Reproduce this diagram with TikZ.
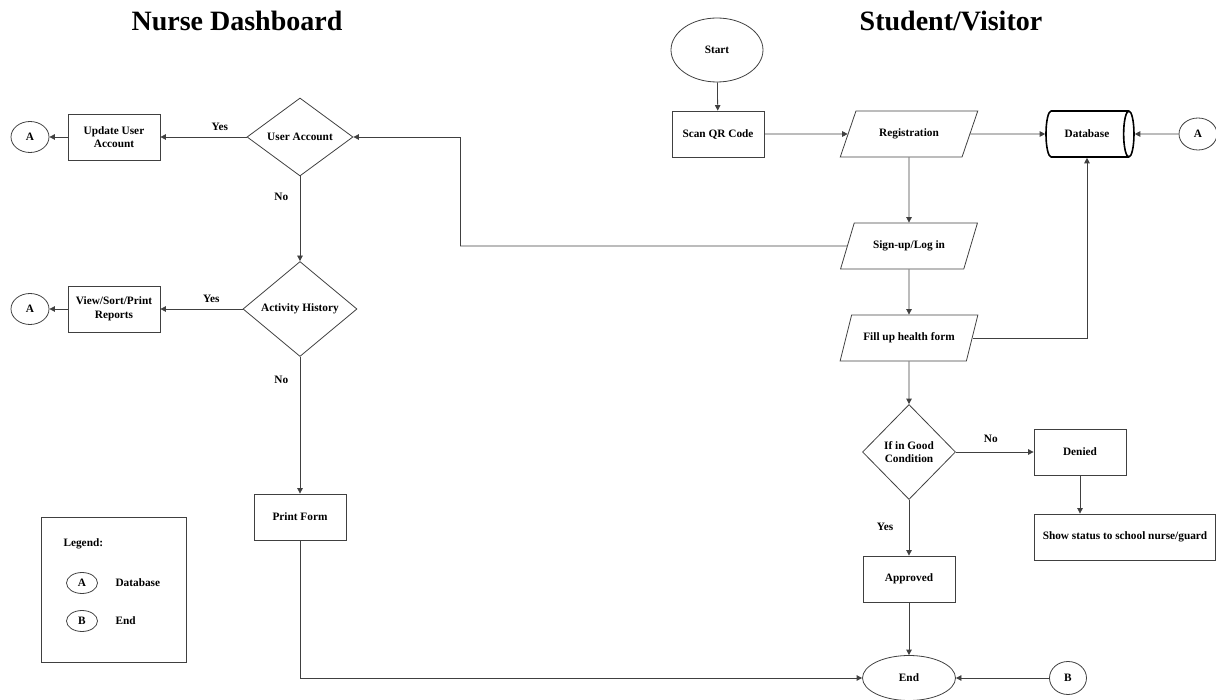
\documentclass[tikz,border=0pt]{standalone}
\usepackage{fontspec}
\setmainfont{Liberation Serif}
\usetikzlibrary{shapes.geometric,arrows.meta,positioning}
\tikzstyle{process}   = [rectangle, draw=black!75, line width=0.8pt, minimum width=92pt, minimum height=46pt, align=center]
\tikzstyle{io}        = [trapezium, trapezium left angle=60, trapezium right angle=120, trapezium stretches=true, minimum width=138pt, minimum height=46pt, draw=black!75, line width=0.8pt]
\tikzstyle{decision}  = [diamond, draw=black!75, line width=0.8pt, aspect=1.15, inner sep=0pt, align=center]
\tikzstyle{terminal}  = [ellipse, draw=black!75, line width=0.8pt, inner sep=0pt]
\tikzstyle{connector} = [ellipse, draw=black!75, line width=0.8pt, minimum width=38pt, minimum height=32pt, inner sep=0pt]
\tikzstyle{db}        = [cylinder, draw=black, line width=1.6pt, shape aspect=1.3, minimum width=46pt, minimum height=88pt, inner sep=0pt]
\tikzstyle{arrow}     = [draw=black!75, line width=0.8pt, -{Triangle[length=5.5pt,width=5.5pt]}]
\tikzstyle{line}      = [draw=black!75, line width=0.8pt]
\tikzset{title/.style={font=\bfseries\fontsize{28}{30}\selectfont}}

\begin{document}
\begin{tikzpicture}[x=1pt,y=-1pt,every node/.append style={font=\bfseries\fontsize{11.3}{13.5}\selectfont}]
	\useasboundingbox (0,0) rectangle (1216,700);

	% titles
	\node[title] (nursetitle) at (237,21) {Nurse Dashboard};
	\node[title] (studtitle) at (951,21) {Student/Visitor};

	% student / visitor side
	\node[terminal, minimum width=92pt, minimum height=64pt] (start) at (717,50) {Start};
	\node[process] (scan) at (718,134) {Scan QR Code};
	\node[io] (reg) at (909,134) {Registration};
	\node[db] (database) at (1087,134) {Database};
	\node[connector] (dbA) at (1198,134) {A};
	\node[io] (signup) at (909,246) {Sign-up/Log in};
	\node[io] (fill) at (909,338) {Fill up health form};
	\node[decision, minimum width=93pt, minimum height=95pt] (good) at (909,452) {If in Good\\Condition};
	\node[process] (denied) at (1080,452) {Denied};
	\node[process, minimum width=181pt] (status) at (1125,537) {Show status to school nurse/guard};
	\node[process] (approved) at (909,579) {Approved};
	\node[terminal, minimum width=93pt, minimum height=45pt] (end) at (909,678) {End};
	\node[connector, minimum width=37pt, minimum height=33pt] (endB) at (1068,678) {B};

	% nurse dashboard side
	\node[decision, minimum width=106pt, minimum height=78pt] (account) at (300,137) {User Account};
	\node[process] (update) at (114,137) {Update User\\Account};
	\node[connector, minimum height=31pt] (updA) at (30,137) {A};
	\node[decision, minimum width=114pt, minimum height=95pt] (history) at (300,309) {Activity History};
	\node[process] (reports) at (114,309) {View/Sort/Print\\Reports};
	\node[connector, minimum height=31pt] (repA) at (30,309) {A};
	\node[process] (print) at (300,517) {Print Form};

	% legend
	\node[rectangle, draw=black!75, line width=0.8pt, minimum width=145pt, minimum height=145pt] (legend) at (113.5,589.5) {};
	\node[anchor=west] (legendtxt) at (60,544) {Legend:};
	\node[connector, minimum width=31pt, minimum height=21pt] (legA) at (82,583) {A};
	\node[anchor=west] (legAtxt) at (112,583) {Database};
	\node[connector, minimum width=31pt, minimum height=21pt] (legB) at (82,621) {B};
	\node[anchor=west] (legBtxt) at (112,621) {End};

	\coordinate (bendsign) at (460,246);

	% connectors
	\path[arrow] (start) -- (scan);
	\path[arrow] (scan) -- (reg);
	\path[arrow] (reg) -- (database);
	\path[arrow] (dbA) -- (database);
	\path[arrow] (reg) -- (signup);
	\path[arrow] (signup) -- (fill);
	\path[arrow] (fill.east) -| (database.south);
	\path[arrow] (fill) -- (good);
	\path[arrow] (good) -- node[pos=0.45, above=6pt] {No} (denied);
	\path[arrow] (denied) -- (denied |- status.north);
	\path[arrow] (good) -- node[pos=0.48, left=12pt] {Yes} (approved);
	\path[arrow] (approved) -- (end);
	\path[arrow] (endB) -- (end);
	\path[line] (signup.west) -- (bendsign);
	\path[arrow] (bendsign) |- (account.east);
	\path[arrow] (account) -- node[pos=0.31, above=3pt] {Yes} (update);
	\path[arrow] (update) -- (updA);
	\path[arrow] (account) -- node[pos=0.24, left=8pt] {No} (history);
	\path[arrow] (history) -- node[pos=0.38, above=3pt] {Yes} (reports);
	\path[arrow] (reports) -- (repA);
	\path[arrow] (history) -- node[pos=0.17, left=8pt] {No} (print);
	\path[arrow] (print) |- (end);
\end{tikzpicture}
\end{document}
